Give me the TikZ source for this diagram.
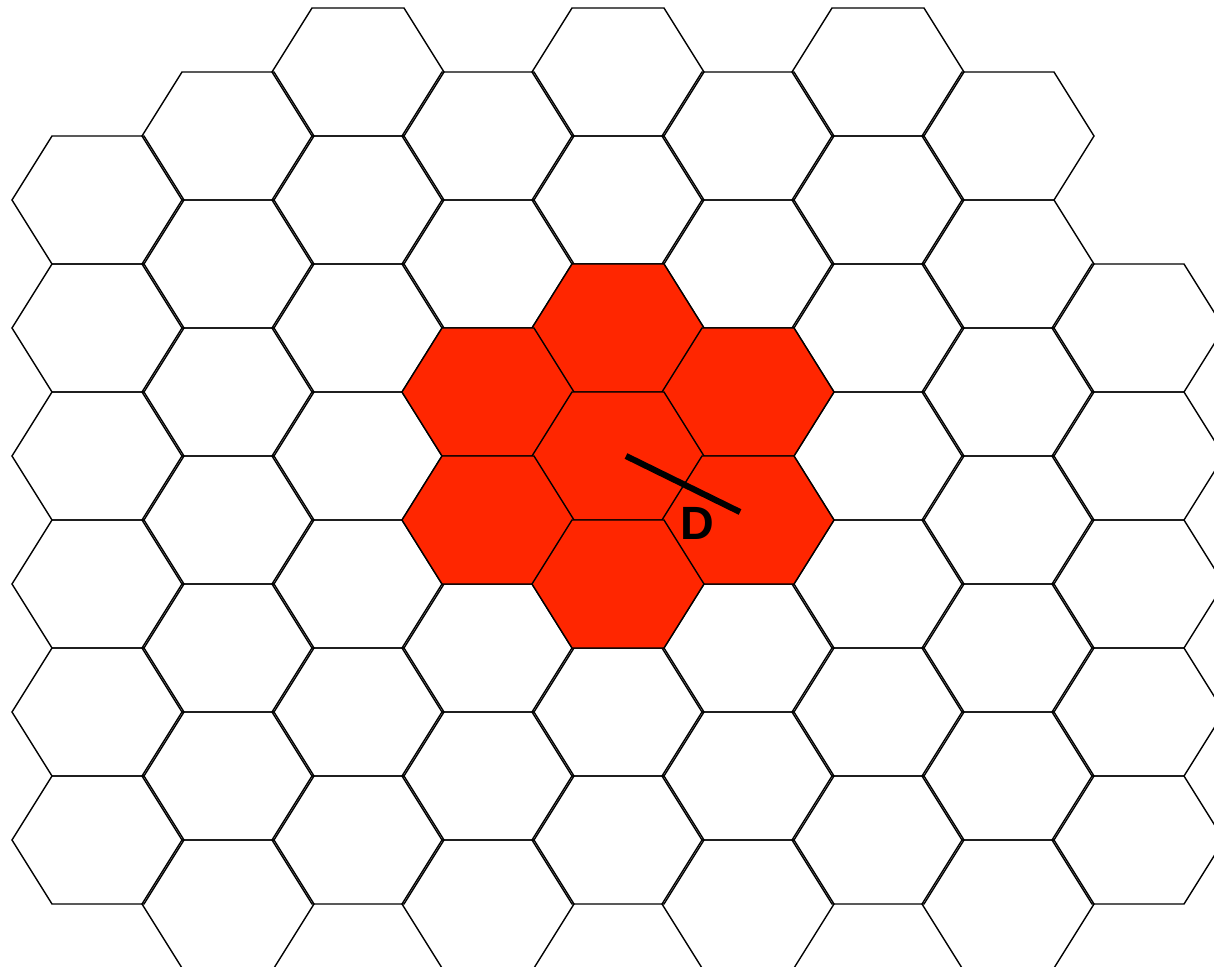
\documentclass[tikz,border=0pt]{standalone}
\usepackage{fontspec}
\newfontfamily\labfont{Liberation Sans}
\definecolor{hexred}{RGB}{255,38,0}
\tikzset{
  hexcell/.style={draw=black, line width=1.05pt, line join=miter},
  redcell/.style={hexcell, fill=hexred},
  dline/.style={line width=4.6pt, line cap=butt},
  dlabel/.style={font=\labfont\bfseries\fontsize{35}{40}\selectfont, inner sep=0pt}
}
\newcommand{\hexat}[3]{\path[#1] (#2-86,#3) -- (#2-46,#3-64) -- (#2+46,#3-64) -- (#2+86,#3) -- (#2+46,#3+64) -- (#2-46,#3+64) -- cycle;}
\begin{document}
\begin{tikzpicture}[x=0.75pt,y=-0.75pt]
\useasboundingbox (0,0) rectangle (1214,967);
\clip (0,0) rectangle (1214,967);
% column 0
\foreach \cy in {200,328,456,584,712,840} {\hexat{hexcell}{98}{\cy}}
% columns with centres starting at 136
\foreach \cx in {228,488,748,1008} {
  \foreach \cy in {136,264,392,520,648,776,904} {\hexat{hexcell}{\cx}{\cy}}
}
% columns with centres starting at 72
\foreach \cx in {358,618,878} {
  \foreach \cy in {72,200,328,456,584,712,840} {\hexat{hexcell}{\cx}{\cy}}
}
% column 8
\foreach \cy in {328,456,584,712,840} {\hexat{hexcell}{1138}{\cy}}
% red cluster
\hexat{redcell}{618}{328}
\hexat{redcell}{488}{392}
\hexat{redcell}{748}{392}
\hexat{redcell}{618}{456}
\hexat{redcell}{488}{520}
\hexat{redcell}{748}{520}
\hexat{redcell}{618}{584}
% distance marker
\coordinate (d1) at (626,456);
\coordinate (d2) at (740,512);
\draw[dline] (d1) -- (d2);
\node[dlabel] (dl) at (697,523.5) {D};
\end{tikzpicture}
\end{document}
